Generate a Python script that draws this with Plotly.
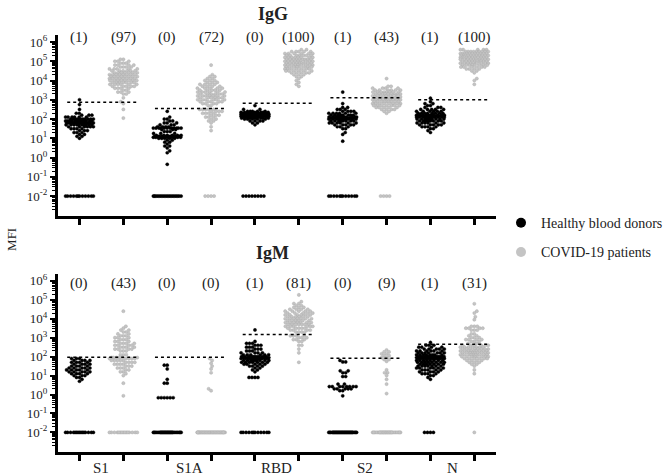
import numpy as np
import plotly.graph_objects as go

W, H = 668, 476
FONT = "Liberation Serif"

antigens = ["S1", "S1A", "RBD", "S2", "N"]

# ---- values: (log10 MFI, number of points) ----
# IgG, healthy blood donors
igg_s1_healthy = [(3.0, 1), (2.75, 1), (2.5, 1), (2.3, 2), (2.2, 3), (2.1, 6), (2.0, 10), (1.9, 12), (1.8, 14),
                  (1.7, 10), (1.6, 6), (1.5, 4), (1.4, 3), (1.3, 3), (1.2, 2), (1.1, 2), (1.0, 1), (-2, 12)]
igg_s1a_healthy = [(2.4, 1), (2.1, 1), (2.0, 2), (1.9, 2), (1.8, 3), (1.7, 3), (1.6, 4), (1.53, 12), (1.45, 3),
                   (1.35, 3), (1.25, 3), (1.15, 6), (1.1, 10), (1.05, 8), (1.0, 5), (0.9, 2), (0.8, 2), (0.7, 1),
                   (0.6, 2), (0.5, 1), (0.35, 1), (0.25, 1), (-0.35, 1), (-2, 20)]
igg_rbd_healthy = [(2.7, 1), (2.5, 2), (2.4, 5), (2.35, 6), (2.3, 8), (2.25, 10), (2.2, 12), (2.15, 10), (2.1, 8),
                   (2.05, 6), (2.0, 5), (1.9, 4), (1.8, 2), (1.7, 1), (-2, 8)]
igg_s2_healthy = [(3.4, 1), (2.8, 1), (2.6, 2), (2.5, 3), (2.4, 4), (2.3, 6), (2.2, 8), (2.1, 10), (2.05, 10),
                  (2.0, 10), (1.9, 8), (1.8, 6), (1.7, 5), (1.6, 3), (1.5, 2), (1.3, 1), (1.2, 1), (0.85, 1), (-2, 12)]
igg_n_healthy = [(3.08, 1), (2.9, 1), (2.8, 2), (2.7, 2), (2.6, 3), (2.5, 5), (2.4, 6), (2.3, 8), (2.2, 10),
                 (2.15, 10), (2.1, 10), (2.0, 9), (1.9, 8), (1.8, 6), (1.7, 5), (1.6, 4), (1.5, 2), (1.4, 1), (1.3, 1)]
# IgG, COVID-19 patients
igg_s1_covid = [(5.1, 2), (5.0, 3), (4.9, 3), (4.8, 4), (4.7, 4), (4.6, 5), (4.5, 6), (4.4, 7), (4.3, 8), (4.2, 8),
                (4.1, 8), (4.0, 8), (3.9, 7), (3.8, 6), (3.7, 5), (3.6, 4), (3.5, 2), (3.4, 3), (3.3, 2), (3.1, 1),
                (2.9, 1), (2.8, 1), (2.5, 1), (2.05, 1)]
igg_s1a_covid = [(4.8, 1), (4.3, 1), (4.2, 2), (4.1, 2), (4.0, 3), (3.9, 3), (3.8, 4), (3.7, 4), (3.6, 5), (3.5, 5),
                 (3.4, 6), (3.3, 6), (3.2, 7), (3.1, 6), (3.0, 6), (2.9, 5), (2.8, 4), (2.7, 2), (2.5, 5), (2.4, 4),
                 (2.3, 4), (2.2, 3), (2.1, 3), (2.0, 2), (1.9, 2), (1.8, 1), (1.6, 1), (1.4, 1), (-2, 4)]
igg_rbd_covid = [(5.6, 2), (5.5, 5), (5.4, 6), (5.3, 7), (5.2, 8), (5.1, 9), (5.0, 9), (4.9, 9), (4.8, 9), (4.7, 8),
                 (4.6, 7), (4.5, 6), (4.4, 5), (4.3, 3), (4.2, 2), (4.1, 1), (4.0, 1), (3.9, 1), (3.8, 1), (3.7, 1)]
igg_s2_covid = [(4.1, 1), (3.7, 2), (3.6, 4), (3.5, 6), (3.4, 8), (3.3, 9), (3.2, 9), (3.15, 4), (3.05, 6), (3.0, 9),
                (2.9, 9), (2.8, 8), (2.7, 7), (2.6, 5), (2.5, 4), (2.4, 2), (2.3, 1), (-2, 4)]
igg_n_covid = [(5.6, 5), (5.5, 9), (5.4, 11), (5.3, 11), (5.2, 11), (5.1, 10), (5.0, 10), (4.9, 9), (4.8, 8),
               (4.7, 6), (4.6, 4), (4.5, 2), (4.4, 1), (4.1, 1), (4.0, 1), (3.8, 1)]
# IgM, healthy blood donors
igm_s1_healthy = [(1.9, 3), (1.8, 4), (1.7, 4), (1.6, 4), (1.5, 4), (1.4, 5), (1.3, 5), (1.2, 5), (1.1, 4), (1.0, 3),
                  (0.9, 2), (0.8, 1), (0.7, 1), (-2, 15)]
igm_s1a_healthy = [(1.55, 2), (1.35, 1), (0.8, 1), (0.6, 2), (-0.17, 6), (-2, 30)]
igm_rbd_healthy = [(3.41, 1), (2.8, 1), (2.7, 3), (2.6, 3), (2.5, 3), (2.4, 3), (2.3, 3), (2.2, 4), (2.1, 6), (2.0, 9),
                   (1.95, 10), (1.9, 10), (1.8, 9), (1.7, 7), (1.6, 5), (1.5, 4), (1.4, 2), (1.3, 2), (1.2, 1),
                   (0.9, 4), (-2, 12)]
igm_s2_healthy = [(1.8, 1), (1.72, 2), (1.25, 2), (1.15, 2), (0.95, 2), (0.55, 2), (0.42, 8), (0.3, 5), (0.2, 2),
                  (-0.07, 1), (-2, 35)]
igm_n_healthy = [(2.75, 1), (2.6, 3), (2.5, 4), (2.4, 5), (2.3, 6), (2.2, 7), (2.1, 8), (2.0, 11), (1.95, 11),
                 (1.9, 10), (1.8, 8), (1.7, 8), (1.6, 7), (1.5, 7), (1.4, 6), (1.3, 5), (1.2, 4), (1.1, 4), (1.0, 2),
                 (0.9, 1), (0.8, 1), (-2, 4)]
# IgM, COVID-19 patients
igm_s1_covid = [(4.4, 1), (3.6, 1), (3.5, 1), (3.4, 2), (3.3, 2), (3.2, 2), (3.1, 3), (3.0, 3), (2.9, 3), (2.8, 3),
                (2.7, 4), (2.6, 4), (2.5, 4), (2.4, 4), (2.3, 3), (2.1, 3), (1.95, 6), (1.9, 5), (1.8, 5), (1.7, 4),
                (1.6, 4), (1.5, 3), (1.4, 3), (1.3, 2), (1.2, 2), (1.1, 1), (1.0, 1), (0.6, 1), (-0.07, 1), (-2, 15)]
igm_s1a_covid = [(1.9, 1), (1.8, 1), (1.65, 1), (1.5, 1), (1.35, 1), (1.15, 1), (0.3, 1), (0.2, 1), (-2, 40)]
igm_rbd_covid = [(5.26, 1), (4.9, 1), (4.8, 2), (4.7, 2), (4.6, 3), (4.5, 4), (4.4, 5), (4.3, 5), (4.2, 6), (4.1, 6),
                 (4.0, 7), (3.9, 6), (3.8, 7), (3.7, 7), (3.6, 6), (3.5, 5), (3.4, 4), (3.3, 4), (3.1, 4), (3.0, 3),
                 (2.9, 3), (2.8, 2), (2.6, 2), (2.4, 1), (2.2, 1), (1.7, 1)]
igm_s2_covid = [(2.35, 1), (2.25, 2), (2.15, 2), (2.05, 2), (1.95, 2), (1.85, 2), (1.75, 1), (1.3, 1), (1.15, 2),
                (1.0, 1), (0.8, 1), (0.55, 1), (0.05, 1), (-2, 30)]
igm_n_covid = [(4.79, 1), (4.4, 1), (4.3, 1), (4.1, 1), (3.95, 1), (3.6, 3), (3.5, 4), (3.4, 3), (3.2, 2), (3.1, 2),
               (3.0, 3), (2.9, 4), (2.8, 3), (2.7, 2), (2.6, 6), (2.5, 7), (2.4, 8), (2.3, 9), (2.2, 9), (2.1, 9),
               (2.0, 8), (1.9, 6), (1.8, 4), (1.7, 3), (1.6, 2), (1.5, 1), (1.3, 1), (1.1, 1), (-2, 1)]

igg_thresholds = [740, 355, 660, 1290, 1000]
igm_thresholds = [93, 93, 1480, 83, 457]
igg_counts = ["(1)", "(97)", "(0)", "(72)", "(0)", "(100)", "(1)", "(43)", "(1)", "(100)"]
igm_counts = ["(0)", "(43)", "(0)", "(0)", "(1)", "(81)", "(0)", "(9)", "(1)", "(31)"]

igg_healthy = [igg_s1_healthy, igg_s1a_healthy, igg_rbd_healthy, igg_s2_healthy, igg_n_healthy]
igg_covid = [igg_s1_covid, igg_s1a_covid, igg_rbd_covid, igg_s2_covid, igg_n_covid]
igm_healthy = [igm_s1_healthy, igm_s1a_healthy, igm_rbd_healthy, igm_s2_healthy, igm_n_healthy]
igm_covid = [igm_s1_covid, igm_s1a_covid, igm_rbd_covid, igm_s2_covid, igm_n_covid]

# ---- layout geometry ----
X0, X1 = 58, 500
XR = [-0.5, 9.5]
YR = [-3.04, 6.37]
TOP = (33, 215)
BOT = (273, 452)
px_per_x = (X1 - X0) / (XR[1] - XR[0])


def expand(pairs):
    out = []
    for v, n in pairs:
        out += [v] * n
    return np.array(out, dtype=float)


def swarm(logvals, px_per_dec, diam=3.0, maxhalf=14.0, step=0.25):
    ys = logvals * px_per_dec
    order = np.argsort(ys, kind="stable")
    placed_x, placed_y = [], []
    offs = np.zeros(len(ys))
    k_max = int(maxhalf / step)
    for j, i in enumerate(order):
        y = ys[i]
        sign = 1 if j % 2 == 0 else -1
        cands = [0.0]
        for k in range(1, k_max + 1):
            cands += [sign * k * step, -sign * k * step]
        px = np.array(placed_x)
        py = np.array(placed_y)
        if len(py):
            mask = np.abs(py - y) < diam
            nx, ny = px[mask], py[mask]
        else:
            nx, ny = px, py
        best, bestc, bestd = None, 0.0, -1
        for c in cands:
            md = np.min(np.hypot(nx - c, ny - y)) if len(nx) else 1e9
            if md >= diam:
                best = c
                break
            if md > bestd:
                bestd, bestc = md, c
        if best is None:
            best = bestc
        placed_x.append(best)
        placed_y.append(y)
        offs[i] = best
    return offs / px_per_x


fig = go.Figure()
panels = [("x", "y", TOP, igg_healthy, igg_covid, igg_thresholds, igg_counts, 6.22),
          ("x2", "y2", BOT, igm_healthy, igm_covid, igm_thresholds, igm_counts, 5.85)]

for xa, ya, dom, healthy, covid, thr, counts, cy in panels:
    ppd = (dom[1] - dom[0]) / (YR[1] - YR[0])
    for a in range(len(antigens)):
        for g, (data, col, lc) in enumerate([(healthy[a], "black", "black"),
                                             (covid[a], "#c4c4c4", "#a8a8a8")]):
            vals = expand(data)
            pos = 2 * a + g
            xs = pos + swarm(vals, ppd)
            fig.add_trace(go.Scatter(x=xs, y=10 ** vals, mode="markers", xaxis=xa, yaxis=ya,
                                     marker=dict(size=3.2, color=col, line=dict(width=0.4, color=lc)),
                                     showlegend=False, hoverinfo="skip"))
        fig.add_trace(go.Scatter(x=[2 * a - 0.28, 2 * a + 1 + 0.33], y=[thr[a], thr[a]], mode="lines",
                                 xaxis=xa, yaxis=ya, line=dict(color="black", width=1.5, dash="dot"),
                                 showlegend=False, hoverinfo="skip"))
    for i, t in enumerate(counts):
        fig.add_annotation(x=i, y=cy, xref=xa, yref=ya, text=t, showarrow=False, xanchor="center",
                           yanchor="middle", font=dict(family=FONT, size=15, color="#222"))

# legend entries
fig.add_trace(go.Scatter(x=[None], y=[None], mode="markers", name="Healthy blood donors", legendgroup="h",
                         marker=dict(size=10, color="black")))
fig.add_trace(go.Scatter(x=[None], y=[None], mode="markers", name="COVID-19 patients", legendgroup="c",
                         marker=dict(size=10, color="#c4c4c4")))

major = [10.0 ** k for k in range(-2, 7)]
major_txt = ["10<sup>%d</sup>" % k for k in range(-2, 7)]
minor = [m * 10.0 ** k for k in range(-3, 6) for m in range(2, 10)]

yax = dict(type="log", range=YR, tickvals=major, ticktext=major_txt, ticks="outside", ticklen=5, tickwidth=2,
           tickcolor="black", showline=True, linewidth=2.5, linecolor="black", showgrid=False, zeroline=False,
           tickfont=dict(family=FONT, size=13, color="#222222"),
           minor=dict(tickmode="array", tickvals=minor, ticks="outside", ticklen=3, tickwidth=1.2,
                      tickcolor="black", showgrid=False))
xax = dict(range=XR, tickvals=list(range(10)), ticktext=[""] * 10, ticks="outside", ticklen=6, tickwidth=2.5,
           tickcolor="black", showline=True, linewidth=2.5, linecolor="black", showgrid=False, zeroline=False,
           domain=[X0 / W, X1 / W])

fig.update_layout(
    width=W, height=H, margin=dict(l=0, r=0, t=0, b=0),
    paper_bgcolor="white", plot_bgcolor="white",
    xaxis=dict(xax, anchor="y"),
    xaxis2=dict(xax, anchor="y2"),
    yaxis=dict(yax, domain=[1 - TOP[1] / H, 1 - TOP[0] / H], anchor="x"),
    yaxis2=dict(yax, domain=[1 - BOT[1] / H, 1 - BOT[0] / H], anchor="x2"),
    showlegend=True,
    legend=dict(x=505 / W, y=1 - 206 / H, xanchor="left", yanchor="top", traceorder="grouped",
                tracegroupgap=8, font=dict(family=FONT, size=14, color="#222"), bgcolor="rgba(0,0,0,0)"),
)

for i, name in enumerate(antigens):
    fig.add_annotation(x=2 * i + 0.5, y=1 - 468 / H, xref="x2", yref="paper", text=name, showarrow=False,
                       xanchor="center", yanchor="middle", font=dict(family=FONT, size=15, color="#222"))
fig.add_annotation(x=275 / W, y=1 - 12 / H, xref="paper", yref="paper", text="<b>IgG</b>", showarrow=False,
                   xanchor="center", yanchor="middle", font=dict(family=FONT, size=18, color="#222"))
fig.add_annotation(x=275 / W, y=1 - 252 / H, xref="paper", yref="paper", text="<b>IgM</b>", showarrow=False,
                   xanchor="center", yanchor="middle", font=dict(family=FONT, size=18, color="#222"))
fig.add_annotation(x=11 / W, y=1 - 238 / H, xref="paper", yref="paper", text="MFI", textangle=-90,
                   showarrow=False, xanchor="center", yanchor="middle",
                   font=dict(family=FONT, size=13, color="#222"))

fig.write_html("out.html")
